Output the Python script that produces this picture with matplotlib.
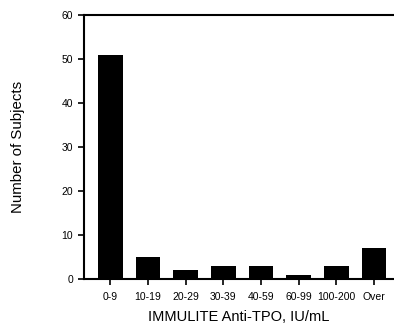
import matplotlib
matplotlib.use("Agg")
import matplotlib.pyplot as plt

plt.rcParams['font.family'] = ['Liberation Sans', 'DejaVu Sans']

categories = ["0-9", "10-19", "20-29", "30-39", "40-59", "60-99", "100-200", "Over"]
counts = [51, 5, 2, 3, 3, 1, 3, 7]

fig = plt.figure(figsize=(3.94, 3.23), dpi=100)
ax = fig.add_axes([84 / 394, 1 - 279 / 323, 310 / 394, 264 / 323])

x = list(range(len(categories)))
ax.bar(x, counts, width=0.66, color="black")

ax.set_xlim(-0.7, 7.53)
ax.set_ylim(0, 60)
ax.set_yticks([0, 10, 20, 30, 40, 50, 60])
ax.set_xticks(x)
ax.set_xticklabels(categories)
ax.tick_params(axis="both", labelsize=7.5, width=1.2, length=4, direction="out")
ax.tick_params(axis="x", pad=5)
ax.tick_params(axis="y", pad=4)
ax.spines["right"].set_visible(False)
for s in ["left", "bottom", "top"]:
    ax.spines[s].set_linewidth(1.5)

ax.set_xlabel("IMMULITE Anti-TPO, IU/mL", fontsize=10.5)
ax.set_ylabel("Number of Subjects", fontsize=10.8)
ax.xaxis.set_label_coords(0.5, -0.118)
ax.yaxis.set_label_coords(-0.19, 0.5)

fig.savefig("out.png", dpi=100)
